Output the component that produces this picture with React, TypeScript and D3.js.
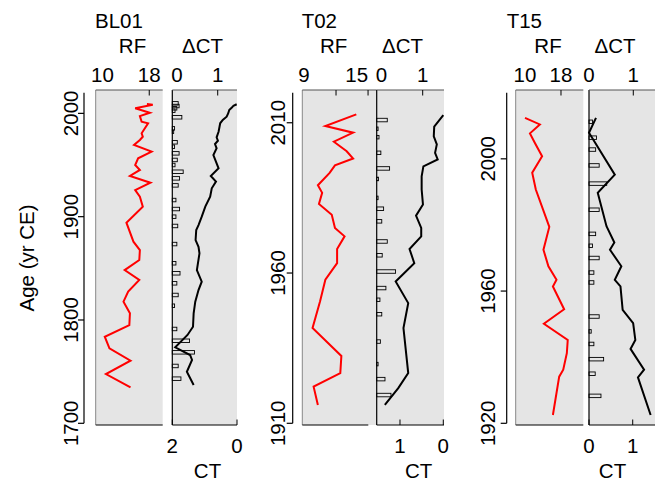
import React from 'react';
import * as d3 from 'd3';

// ---- core names ----
const siteNames = ['BL01', 'T02', 'T15'];

// ---- BL01 ----
const bl01RfYear = [2009.1, 2008.4, 2004.9, 2000.6, 1997.4, 1991.9, 1990.4, 1980.7, 1977.4, 1974.2, 1969.4, 1962.9, 1956.5, 1950.0, 1945.2, 1939.4, 1932.9, 1925.8, 1919.3, 1909.7, 1894.2, 1875.8, 1867.7, 1858.0, 1848.3, 1838.7, 1827.4, 1817.7, 1806.5, 1795.1, 1783.8, 1772.6, 1760.6, 1747.7, 1734.8];
const bl01Rf = [17.6, 18.6, 15.6, 18.1, 16.4, 16.7, 17.8, 16.7, 16.9, 16.4, 15.4, 18.4, 16.1, 15.6, 16.4, 14.7, 18.2, 15.6, 16.4, 16.9, 14.1, 15.3, 16.4, 16.3, 13.8, 16.3, 14.4, 13.6, 14.7, 14.6, 10.4, 11.2, 14.8, 10.6, 14.8];
const bl01DctYear = [2009.7, 2007.1, 2004.9, 2002.6, 1996.2, 1985.5, 1982.2, 1972.0, 1967.7, 1961.3, 1954.9, 1950.0, 1943.5, 1937.1, 1930.3, 1916.1, 1907.4, 1900.0, 1891.0, 1873.5, 1854.9, 1845.2, 1835.5, 1824.2, 1813.8, 1791.3, 1779.9, 1768.7, 1755.5, 1743.2];
const bl01Dct = [0.13, 0.15, 0.10, 0.06, 0.21, 0.05, 0.03, 0.11, 0.05, 0.15, 0.11, 0.06, 0.24, 0.16, 0.13, 0.08, 0.16, 0.08, 0.12, 0.10, 0.08, 0.17, 0.10, 0.13, 0.05, 0.10, 0.38, 0.49, 0.13, 0.19];
const bl01CtYear = [2008.8, 2007.4, 2005.9, 2003.3, 2000.1, 1996.8, 1993.6, 1990.4, 1987.1, 1982.2, 1976.8, 1973.5, 1970.3, 1966.2, 1959.7, 1946.8, 1939.4, 1933.9, 1927.5, 1919.3, 1909.7, 1900.0, 1891.9, 1887.1, 1877.4, 1870.9, 1864.5, 1848.3, 1837.1, 1829.0, 1817.7, 1806.5, 1793.5, 1785.5, 1773.6, 1766.1, 1761.3, 1749.9, 1737.1];
const bl01Ct = [0.01, 0.11, 0.15, 0.24, 0.27, 0.32, 0.44, 0.52, 0.54, 0.57, 0.63, 0.59, 0.68, 0.63, 0.73, 0.57, 0.81, 0.65, 0.78, 0.83, 0.98, 1.09, 1.19, 1.26, 1.28, 1.19, 1.16, 1.24, 1.09, 1.19, 1.29, 1.34, 1.36, 1.53, 1.91, 1.45, 1.39, 1.55, 1.34];

// ---- T02 ----
const t02RfYear = [2012.8, 2008.9, 2006.7, 2003.7, 2000.5, 1998.1, 1995.8, 1993.3, 1989.2, 1986.7, 1983.0, 1979.4, 1975.0, 1972.2, 1968.0, 1963.3, 1957.8, 1950.5, 1941.7, 1932.4, 1926.7, 1922.2, 1916.1];
const t02Rf = [13.9, 11.0, 13.6, 11.8, 13.0, 13.6, 11.9, 11.4, 10.3, 10.7, 10.4, 11.6, 11.9, 12.8, 12.1, 12.1, 11.0, 10.5, 9.8, 12.5, 12.4, 9.9, 10.3];
const t02DctYear = [2010.9, 2008.0, 2005.2, 2000.0, 1994.8, 1991.3, 1985.0, 1981.4, 1977.2, 1970.5, 1965.9, 1960.5, 1955.0, 1951.1, 1946.3, 1937.2, 1929.7, 1924.7, 1919.4];
const t02Dct = [0.23, 0.03, 0.05, 0.09, 0.28, 0.04, 0.03, 0.15, 0.11, 0.23, 0.12, 0.41, 0.20, 0.07, 0.11, 0.08, 0.03, 0.18, 0.31];
const t02CtYear = [2012.5, 2008.7, 2005.5, 2002.8, 2000.0, 1997.8, 1995.5, 1992.2, 1987.8, 1982.8, 1979.1, 1975.0, 1972.2, 1968.0, 1963.3, 1957.2, 1950.0, 1941.7, 1926.7, 1921.7, 1916.1];
const t02Ct = [0.0, 0.21, 0.22, 0.15, 0.19, 0.13, 0.46, 0.50, 0.50, 0.47, 0.63, 0.51, 0.51, 0.78, 0.67, 1.10, 0.81, 0.92, 0.81, 1.04, 1.35];

// ---- T15 ----
const t15RfYear = [2012.4, 2010.4, 2007.7, 2004.8, 2000.8, 1995.8, 1990.7, 1979.4, 1972.5, 1967.5, 1963.4, 1961.4, 1954.5, 1950.1, 1945.2, 1941.2, 1936.2, 1934.1, 1922.5];
const t15Rf = [10.0, 13.3, 11.1, 12.2, 13.8, 11.6, 12.4, 15.4, 14.1, 15.2, 17.0, 16.2, 18.7, 14.2, 19.5, 19.3, 18.5, 17.6, 16.2];
const t15DctYear = [2011.2, 2006.4, 2002.8, 1998.0, 1992.5, 1984.6, 1977.3, 1973.7, 1970.0, 1965.6, 1962.6, 1952.3, 1947.8, 1944.0, 1939.4, 1935.0, 1928.3];
const t15Dct = [0.08, 0.17, 0.15, 0.23, 0.40, 0.23, 0.15, 0.08, 0.23, 0.11, 0.11, 0.23, 0.05, 0.11, 0.33, 0.14, 0.27];
const t15CtYear = [2012.4, 2007.9, 1995.2, 1989.7, 1979.6, 1974.7, 1972.5, 1967.5, 1963.4, 1961.4, 1954.3, 1950.3, 1945.2, 1942.5, 1936.2, 1933.9, 1922.5];
const t15Ct = [0.16, 0.0, 0.59, 0.20, 0.40, 0.58, 0.48, 0.74, 0.59, 0.72, 0.77, 1.01, 1.06, 0.95, 1.26, 1.12, 1.41];

// ---- axis ticks and labels ----
const bl01YearTicks = [1700, 1800, 1900, 2000];
const t02YearTicks = [1910, 1960, 2010];
const t15YearTicks = [1920, 1960, 2000];
const bl01RfLabels = [10, 18];
const t02RfLabels = [9, 15];
const t15RfLabels = [10, 18];
const bl01RfMarks = [18];
const t02RfMarks = [12, 15];
const t15RfMarks = [18];
const dctLabels = [0, 1];
const dctMarks = [1];
const bl01CtLabels = [2, 0];
const t02CtLabels = [1, 0];
const t15CtLabels = [0, 1];

const FONT = '"Liberation Sans", Arial, Helvetica, sans-serif';
const FS = 20.5;
const PANEL_TOP = 90;
const PANEL_BOTTOM = 425;
const Y_TOP = 92.7;
const Y_BOTTOM = 423.3;
const BG = '#e5e5e5';

const zip = (a: number[], b: number[]) => a.map((v, i) => ({ year: v, value: b[i] }));

const sites = [
  {
    name: siteNames[0],
    rf: zip(bl01RfYear, bl01Rf), dct: zip(bl01DctYear, bl01Dct), ct: zip(bl01CtYear, bl01Ct),
    yearTicks: bl01YearTicks, rfLabels: bl01RfLabels, rfMarks: bl01RfMarks, ctLabels: bl01CtLabels,
    lay: {
      axisX: 84, yLabelX: 78, yearSpan: [1700, 2020], rfX: [95.7, 162.7], rfDomain: [8.85, 20.3], rfBaseEnd: 162.7,
      dctX: [172.3, 237], dctDomain: [0, 1.425], ctDomain: [2, 0], titleX: 95, rfTitleX: 132.5, dctTitleX: 202.5,
      ctTitleX: 207.5, rfAnchors: ['middle', 'middle'], dctZeroAnchor: 'start',
    },
  },
  {
    name: siteNames[1],
    rf: zip(t02RfYear, t02Rf), dct: zip(t02DctYear, t02Dct), ct: zip(t02CtYear, t02Ct),
    yearTicks: t02YearTicks, rfLabels: t02RfLabels, rfMarks: t02RfMarks, ctLabels: t02CtLabels,
    lay: {
      axisX: 292.7, yLabelX: 285, yearSpan: [1910, 2020], rfX: [302.3, 376.7], rfDomain: [8.84, 15.81], rfBaseEnd: 368.3,
      dctX: [376.7, 444], dctDomain: [0, 1.463], ctDomain: [1.538, -0.016], titleX: 301.7, rfTitleX: 333.7, dctTitleX: 402.5,
      ctTitleX: 418.7, rfAnchors: ['middle', 'end'], dctZeroAnchor: 'start',
    },
  },
  {
    name: siteNames[2],
    rf: zip(t15RfYear, t15Rf), dct: zip(t15DctYear, t15Dct), ct: zip(t15CtYear, t15Ct),
    yearTicks: t15YearTicks, rfLabels: t15RfLabels, rfMarks: t15RfMarks, ctLabels: t15CtLabels,
    lay: {
      axisX: 506.7, yLabelX: 495, yearSpan: [1920, 2020], rfX: [515.7, 583.3], rfDomain: [7.93, 22.96], rfBaseEnd: 583.3,
      dctX: [589, 655], dctDomain: [0, 1.49], ctDomain: [0, 1.51], titleX: 506.7, rfTitleX: 548, dctTitleX: 615,
      ctTitleX: 612.5, rfAnchors: ['middle', 'middle'], dctZeroAnchor: 'middle',
    },
  },
];

function Core({ site }: { site: (typeof sites)[number] }) {
  const L = site.lay;
  const y = d3.scaleLinear().domain(L.yearSpan).range([Y_BOTTOM, Y_TOP]);
  const xRf = d3.scaleLinear().domain(L.rfDomain).range(L.rfX);
  const xDct = d3.scaleLinear().domain(L.dctDomain).range(L.dctX);
  const xCt = d3.scaleLinear().domain(L.ctDomain).range(L.dctX);

  const rfLine = d3.line<{ year: number; value: number }>().x((d) => xRf(d.value)).y((d) => y(d.year));
  const ctLine = d3.line<{ year: number; value: number }>().x((d) => xCt(d.value)).y((d) => y(d.year));
  const barH = 3.5;

  return (
    <g>
      {/* panel backgrounds */}
      <rect x={L.rfX[0]} y={PANEL_TOP} width={L.rfX[1] - L.rfX[0]} height={PANEL_BOTTOM - PANEL_TOP} fill={BG} />
      <rect x={L.dctX[0]} y={PANEL_TOP} width={L.dctX[1] - L.dctX[0]} height={PANEL_BOTTOM - PANEL_TOP} fill={BG} />

      {/* age axis */}
      <line x1={L.axisX} x2={L.axisX} y1={y(L.yearSpan[1])} y2={y(L.yearSpan[0])} stroke="#000" strokeWidth={1.2} />
      {site.yearTicks.map((t) => (
        <g key={t}>
          <line x1={L.axisX - 6} x2={L.axisX} y1={y(t)} y2={y(t)} stroke="#000" strokeWidth={1.2} />
          <text transform={`translate(${L.yLabelX},${y(t)}) rotate(-90)`} textAnchor="middle" fontSize={FS} fontFamily={FONT}>
            {t}
          </text>
        </g>
      ))}

      {/* RF panel frame */}
      <line x1={L.rfX[0]} x2={L.rfX[0]} y1={PANEL_TOP} y2={PANEL_BOTTOM} stroke="#888" strokeWidth={1} />
      <line x1={L.rfX[0]} x2={L.rfX[1]} y1={PANEL_TOP} y2={PANEL_TOP} stroke="#555" strokeWidth={1.2} />
      <line x1={L.rfX[0]} x2={L.rfBaseEnd} y1={PANEL_BOTTOM} y2={PANEL_BOTTOM} stroke="#000" strokeWidth={1.2} />
      {site.rfMarks.map((t) => (
        <line key={t} x1={xRf(t)} x2={xRf(t)} y1={PANEL_TOP} y2={PANEL_TOP + 5.5} stroke="#000" strokeWidth={1} />
      ))}
      {site.rfLabels.map((t, i) => (
        <text key={t} x={xRf(t)} y={81.7} textAnchor={L.rfAnchors[i]} fontSize={FS} fontFamily={FONT}>
          {t}
        </text>
      ))}
      <path d={rfLine(site.rf) ?? ''} fill="none" stroke="#ff0000" strokeWidth={2} strokeLinejoin="miter" />

      {/* ΔCT bars and CT curve */}
      {site.dct.map((d, i) => (
        <rect
          key={i}
          x={xDct(0)}
          y={y(d.year) - barH / 2}
          width={Math.max(xDct(d.value) - xDct(0), 0.8)}
          height={barH}
          fill="none"
          stroke="#000"
          strokeWidth={0.9}
        />
      ))}
      <path d={ctLine(site.ct) ?? ''} fill="none" stroke="#000" strokeWidth={2} />
      <line x1={L.dctX[0]} x2={L.dctX[0]} y1={PANEL_TOP} y2={PANEL_BOTTOM} stroke="#000" strokeWidth={1.2} />
      <line x1={L.dctX[0]} x2={L.dctX[1]} y1={PANEL_TOP} y2={PANEL_TOP} stroke="#555" strokeWidth={1.2} />
      <line x1={L.dctX[0]} x2={L.dctX[1]} y1={PANEL_BOTTOM} y2={PANEL_BOTTOM} stroke="#000" strokeWidth={1.2} />
      {dctMarks.map((t) => (
        <line key={t} x1={xDct(t)} x2={xDct(t)} y1={PANEL_TOP} y2={PANEL_TOP + 5.5} stroke="#000" strokeWidth={1} />
      ))}
      {dctLabels.map((t) => (
        <text
          key={t}
          x={t === 0 && L.dctZeroAnchor === 'start' ? xDct(t) - 1 : xDct(t)}
          y={81.7}
          textAnchor={t === 0 ? L.dctZeroAnchor : 'middle'}
          fontSize={FS}
          fontFamily={FONT}
        >
          {t}
        </text>
      ))}
      {site.ctLabels.map((t) => (
        <g key={t}>
          <line x1={xCt(t)} x2={xCt(t)} y1={PANEL_BOTTOM - 5.5} y2={PANEL_BOTTOM} stroke="#000" strokeWidth={1} />
          <text x={xCt(t)} y={452.7} textAnchor="middle" fontSize={FS} fontFamily={FONT}>
            {t}
          </text>
        </g>
      ))}

      {/* titles */}
      <text x={L.titleX} y={28.3} fontSize={FS} fontFamily={FONT}>
        {site.name}
      </text>
      <text x={L.rfTitleX} y={52.7} textAnchor="middle" fontSize={FS} fontFamily={FONT}>
        RF
      </text>
      <text x={L.dctTitleX} y={52.7} textAnchor="middle" fontSize={FS} fontFamily={FONT}>
        ΔCT
      </text>
      <text x={L.ctTitleX} y={478.3} textAnchor="middle" fontSize={FS} fontFamily={FONT}>
        CT
      </text>
    </g>
  );
}

export default function App() {
  return (
    <svg
      width={659}
      height={481}
      viewBox="0 0 659 481"
      style={{ position: 'absolute', left: 0, top: 0, background: '#fff' }}
    >
      <rect width={659} height={481} fill="#fff" />
      {sites.map((s) => (
        <Core key={s.name} site={s} />
      ))}
      <text transform="translate(34,258) rotate(-90)" textAnchor="middle" fontSize={FS} fontFamily={FONT}>
        Age (yr CE)
      </text>
    </svg>
  );
}
